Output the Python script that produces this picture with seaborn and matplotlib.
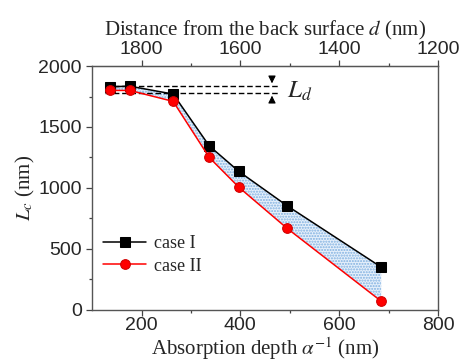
import numpy as np
import pandas as pd
import matplotlib
matplotlib.use("Agg")
import matplotlib.pyplot as plt
import seaborn as sb

# data
absorption_depth = [136, 176, 264, 337, 397, 494, 685]
lc_case1 = [1830, 1835, 1770, 1345, 1135, 855, 350]
lc_case2 = [1800, 1800, 1710, 1250, 1005, 670, 70]
ld_top = 1835
ld_bottom = 1780

sb.set_style("ticks")
plt.rcParams["font.family"] = ["Liberation Sans", "DejaVu Sans"]
plt.rcParams["mathtext.fontset"] = "stix"

serif = ["Liberation Serif", "DejaVu Serif"]

fig = plt.figure(figsize=(4.63, 3.61), dpi=100)
ax = fig.add_axes([0.199, 0.142, 0.747, 0.675])

# shaded region between the two cases
ax.fill_between(absorption_depth, lc_case2, lc_case1, facecolor="#e6f0fb",
                edgecolor="#7fb0e0", hatch="......", linewidth=0, zorder=1)

sb.lineplot(x=absorption_depth, y=lc_case1, ax=ax, color="black", lw=1.1,
            marker="s", markersize=6.8, markeredgecolor="black", label="case I", zorder=3)
sb.lineplot(x=absorption_depth, y=lc_case2, ax=ax, color="red", lw=1.1,
            marker="o", markersize=7, markeredgecolor="#d00000", label="case II", zorder=4)

# L_d marker lines
for yv in (ld_top, ld_bottom):
    ax.plot([126, 478], [yv, yv], ls=(0, (4, 2)), color="black", lw=1.0, zorder=2)
ax.annotate("", xy=(464, ld_top), xytext=(464, ld_top + 100),
            arrowprops=dict(arrowstyle="-|>", color="black", lw=0.8, mutation_scale=11))
ax.annotate("", xy=(464, ld_bottom), xytext=(464, ld_bottom - 100),
            arrowprops=dict(arrowstyle="-|>", color="black", lw=0.8, mutation_scale=11))
ax.text(495, 1795, "$L_d$", fontsize=18, va="center", ha="left")

ax.set_xlim(100, 800)
ax.set_ylim(0, 2000)
ax.set_xticks([200, 400, 600, 800])
ax.set_xticks([300, 500, 700], minor=True)
ax.set_yticks([0, 500, 1000, 1500, 2000])
ax.set_yticks([250, 750, 1250, 1750], minor=True)
ax.tick_params(axis="both", which="major", labelsize=14, length=4, width=0.9, color="#444444")
ax.tick_params(axis="x", which="major", pad=1.5)
ax.tick_params(axis="both", which="minor", length=2.5, width=0.9, color="#444444")
for sp in ax.spines.values():
    sp.set_visible(True)
    sp.set_color("#555555")
    sp.set_linewidth(1.0)

ax.set_xlabel(r"Absorption depth $\alpha^{-1}$ (nm)", fontsize=15, family=serif, labelpad=0.5)
ax.set_ylabel(r"$L_c$ (nm)", fontsize=15, family=serif, labelpad=1)

# top axis: distance from back surface
top = ax.secondary_xaxis("top", functions=(lambda x: 2000 - x, lambda d: 2000 - d))
top.set_xticks([1800, 1600, 1400, 1200])
top.set_xticks([1700, 1500, 1300], minor=True)
top.tick_params(which="major", labelsize=14, length=4, width=0.9, color="#444444", pad=2)
top.tick_params(which="minor", length=2.5, width=0.9, color="#444444")
top.spines["top"].set_color("#555555")
top.set_xlabel(r"Distance from the back surface $d$ (nm)", fontsize=15, family=serif, labelpad=4)

leg = ax.legend(loc="lower left", bbox_to_anchor=(0.0, 0.1), frameon=False,
                prop={"family": serif, "size": 13}, handlelength=2.4,
                handletextpad=0.4, labelspacing=0.3, borderaxespad=0.2)

fig.savefig("out.png", dpi=100)
